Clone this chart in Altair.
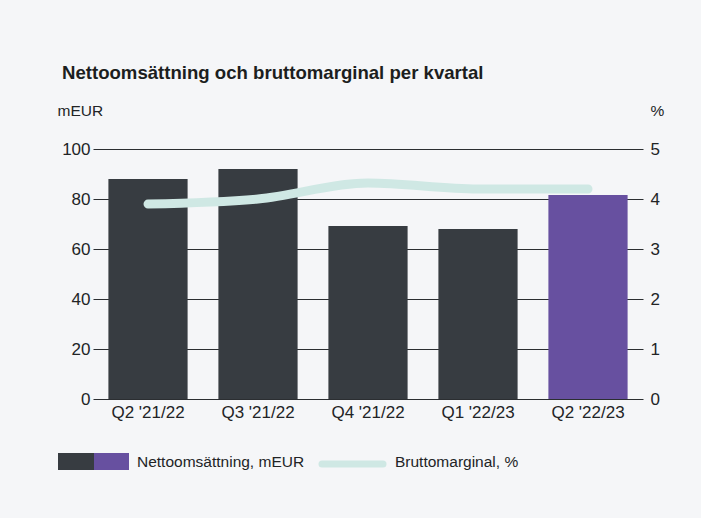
import altair as alt
import pandas as pd

quarters = ["Q2 '21/22", "Q3 '21/22", "Q4 '21/22", "Q1 '22/23", "Q2 '22/23"]
net_sales = [88, 92, 69.2, 68, 81.6]
gross_margin = [3.9, 4.0, 4.32, 4.2, 4.2]
bar_colors = ["#373c41", "#373c41", "#373c41", "#373c41", "#6750a0"]
legend_labels = ["Nettoomsättning, mEUR", "Bruttomarginal, %"]
title_text = "Nettoomsättning och bruttomarginal per kvartal"

FONT = "Liberation Sans"
TXT = "#222426"
LINE_COLOR = "#cfe8e4"

df = pd.DataFrame({"q": quarters, "sales": net_sales, "margin": gross_margin, "color": bar_colors})

x_enc = alt.X("q:N", sort=quarters, title=None,
              scale=alt.Scale(paddingInner=0.28, paddingOuter=0.14),
              axis=alt.Axis(labelAngle=0, ticks=False, domain=False, labelPadding=5,
                            labelFontSize=17, labelColor=TXT, labelFont=FONT))

bars = alt.Chart(df).mark_bar().encode(
    x=x_enc,
    y=alt.Y("sales:Q", title="mEUR", scale=alt.Scale(domain=[0, 100], nice=False),
            axis=alt.Axis(values=[0, 20, 40, 60, 80, 100], grid=True, gridColor="#2b2e31",
                          gridWidth=1, ticks=False, domain=False, labelPadding=3,
                          labelFontSize=17, labelColor=TXT, labelFont=FONT,
                          titleAngle=0, titleX=-36, titleY=-31, titleAlign="left",
                          titleFontWeight="normal", titleFontSize=15.5, titleFont=FONT,
                          titleColor=TXT)),
    color=alt.Color("color:N", scale=None),
)

line = alt.Chart(df).mark_line(strokeWidth=9, strokeCap="round", interpolate="monotone",
                               color=LINE_COLOR).encode(
    x=alt.X("q:N", sort=quarters),
    y=alt.Y("margin:Q", title="%", scale=alt.Scale(domain=[0, 5], nice=False),
            axis=alt.Axis(orient="right", values=[0, 1, 2, 3, 4, 5], grid=False, ticks=False,
                          domain=False, labelPadding=7, labelFontSize=17, labelColor=TXT,
                          labelFont=FONT, titleAngle=0, titleX=7, titleY=-31,
                          titleAlign="left", titleFontWeight="normal", titleFontSize=15.5,
                          titleFont=FONT, titleColor=TXT)),
)

leg_df = pd.DataFrame({"label": legend_labels})

leg_dark = alt.Chart(leg_df.head(1)).mark_rect(color="#373c41").encode(
    x=alt.value(-35), x2=alt.value(1), y=alt.value(304), y2=alt.value(321))
leg_purple = alt.Chart(leg_df.head(1)).mark_rect(color="#6750a0").encode(
    x=alt.value(1), x2=alt.value(36), y=alt.value(304), y2=alt.value(321))
leg_line = alt.Chart(leg_df.head(1)).mark_rule(color=LINE_COLOR, strokeWidth=7,
                                               strokeCap="round").encode(
    x=alt.value(229), x2=alt.value(290), y=alt.value(315))
leg_text1 = alt.Chart(leg_df.iloc[[0]]).mark_text(align="left", baseline="middle", fontSize=15.5,
                                                 font=FONT, color=TXT).encode(
    x=alt.value(44), y=alt.value(313), text="label:N")
leg_text2 = alt.Chart(leg_df.iloc[[1]]).mark_text(align="left", baseline="middle", fontSize=15.5,
                                                 font=FONT, color=TXT).encode(
    x=alt.value(302), y=alt.value(313), text="label:N")

chart = alt.layer(bars, line, leg_dark, leg_purple, leg_line, leg_text1, leg_text2).resolve_scale(
    y="independent"
).properties(
    width=550, height=250,
    autosize=alt.AutoSizeParams(type="none"),
    padding={"left": 93, "top": 149, "right": 58, "bottom": 119},
    background="#f5f6f8",
    title=alt.Title(title_text, anchor="start", font=FONT, fontSize=18.6, fontWeight="bold",
                    color="#1c1e20", frame="group", dx=-31, offset=20),
).configure_view(stroke=None)

chart.save("out.html", embed_options={"renderer": "svg", "actions": False})
